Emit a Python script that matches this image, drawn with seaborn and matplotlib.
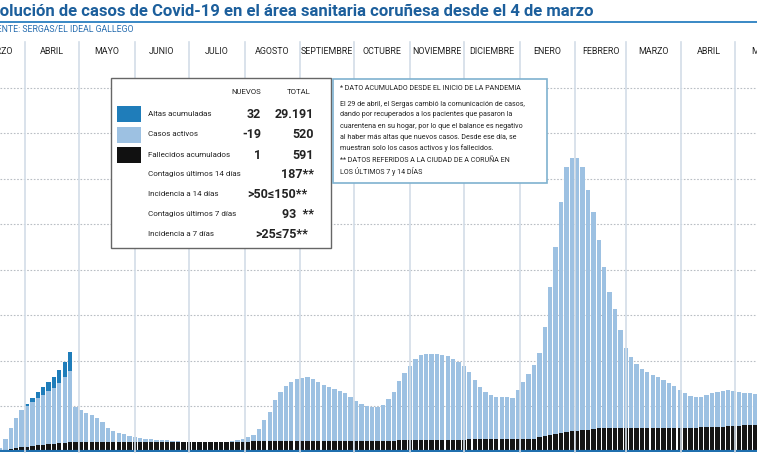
import numpy as np
import pandas as pd
import matplotlib
matplotlib.use("Agg")
import matplotlib.pyplot as plt
import seaborn as sns
from matplotlib.patches import Rectangle

# ---- data (one bar every 3 days from 18 March 2020) ----
fechas = pd.date_range("2020-03-18", periods=141, freq="3D")
activos = [4, 13, 24, 34, 42, 46, 50, 54, 57, 61, 64, 69, 75, 81, 45, 42, 39, 37, 34, 30,
           24, 21, 19, 18, 16, 15, 14, 13, 13, 12, 12, 12, 11, 11, 10, 10, 9, 9, 9, 9,
           9, 10, 10, 11, 12, 13, 15, 17, 23, 32, 40, 52, 60, 66, 70, 73, 74, 75, 73, 70,
           67, 65, 63, 61, 59, 55, 51, 48, 46, 45, 45, 47, 53, 60, 71, 79, 86, 93, 97, 98,
           98, 98, 97, 96, 93, 90, 86, 80, 72, 65, 60, 57, 55, 55, 55, 54, 62, 70, 78, 87,
           99, 125, 165, 205, 250, 285, 294, 294, 285, 262, 240, 212, 185, 160, 143, 122, 104, 95, 88, 83,
           80, 77, 75, 72, 69, 66, 62, 59, 56, 55, 55, 57, 59, 60, 61, 62, 61, 60, 59, 59, 58]
altas_extra = [0, 0, 0, 0, 0, 2, 4, 6, 8, 9, 11, 13, 15, 19] + [0] * 127
fallecidos = [1, 2, 3, 4, 5, 5, 6, 7, 7, 8, 8, 9, 9, 10] + [10] * 33 + [11] * 27 + \
             [12] * 13 + [13] * 13 + [15, 16, 17, 18, 19, 20, 21, 21, 22, 22, 23] + [24] * 19 + [25] * 5 + [26] * 3 + [27] * 3
meses = ["MARZO", "ABRIL", "MAYO", "JUNIO", "JULIO", "AGOSTO", "SEPTIEMBRE", "OCTUBRE",
         "NOVIEMBRE", "DICIEMBRE", "ENERO", "FEBRERO", "MARZO", "ABRIL", "MAYO"]
inicios_mes = pd.date_range("2020-03-01", periods=16, freq="MS")

origen = pd.Timestamp("2020-03-04")
dias = np.array([(f - origen).days for f in fechas])
df = pd.DataFrame({"dia": dias,
                   "activos": activos,
                   "altas": np.array(activos) + np.array(altas_extra),
                   "fallecidos": fallecidos[:len(dias)]})

W, H = 757, 463
fig = plt.figure(figsize=(W / 100, H / 100), dpi=100)
def fx(x): return x / W
def fy(y): return 1 - y / H

ax = fig.add_axes([0, fy(452), 1, (452 - 60) / H])
x0, x1 = 14, 435
ax.set_xlim(x0, x1)
ax.set_ylim(0, 392)
for v in np.arange(46, 392, 45.5):
    ax.axhline(v, color="#b9bec4", lw=0.8, ls=(0, (1.5, 1.5)), zorder=0)

sns.barplot(data=df, x="dia", y="altas", native_scale=True, color="#1f7dba", width=0.8,
            saturation=1, ax=ax, zorder=2)
sns.barplot(data=df, x="dia", y="activos", native_scale=True, color="#9dc1e2", width=0.8,
            saturation=1, ax=ax, zorder=3)
sns.barplot(data=df, x="dia", y="fallecidos", native_scale=True, color="#151515", width=0.8,
            saturation=1, ax=ax, zorder=4)
ax.set_xlim(x0, x1)
ax.axis("off")
ax.axhline(0, color="#1f6fae", lw=3, zorder=6)

def day_to_px(d): return (d - x0) / (x1 - x0) * W
lim_px = [day_to_px((m - origen).days) for m in inicios_mes]
for p in lim_px[1:]:
    fig.add_artist(plt.Line2D([fx(p), fx(p)], [fy(42), fy(452)], color="#d3dde8", lw=1.2, zorder=5))
narrow = "Roboto"
for i, name in enumerate(meses):
    c = (lim_px[i] + lim_px[i + 1]) / 2
    fig.text(fx(c), fy(51), name, ha="center", va="center", fontsize=6.4, family=narrow, color="#222")

# title
fig.text(fx(-18), fy(12), "Evolución de casos de Covid-19 en el área sanitaria coruñesa desde el 4 de marzo",
         ha="left", va="center", fontsize=12, fontweight="bold", family="Roboto", color="#1c5f9c")
fig.add_artist(plt.Line2D([0, 1], [fy(22), fy(22)], color="#2a7fc0", lw=1.3))
fig.text(fx(-14), fy(29), "FUENTE: SERGAS/EL IDEAL GALLEGO", ha="left", va="center", fontsize=6.3,
         family=narrow, color="#2a6fb0")

# legend box
fig.add_artist(Rectangle((fx(111), fy(248)), fx(220), (248 - 78) / H, transform=fig.transFigure,
                         facecolor="white", edgecolor="#666", lw=1, zorder=10))
t = dict(zorder=11, family=narrow, va="center", color="#222")
fig.text(fx(261), fy(92), "NUEVOS", ha="right", fontsize=5.6, **t)
fig.text(fx(311), fy(92), "TOTAL", ha="right", fontsize=5.6, **t)
rows = [("Altas acumuladas", "32", "29.191", "#1f7dba"),
        ("Casos activos", "-19", "520", "#9dc1e2"),
        ("Fallecidos acumulados", "1", "591", "#111111")]
for i, (lab, nv, tot, col) in enumerate(rows):
    y = 114 + 20.5 * i
    fig.add_artist(Rectangle((fx(117), fy(y + 8)), fx(24), 16 / H, transform=fig.transFigure,
                             facecolor=col, edgecolor="none", zorder=11))
    fig.text(fx(148), fy(y), lab, ha="left", fontsize=5.8, **t)
    fig.text(fx(261), fy(y), nv, ha="right", fontsize=9, fontweight="bold", **t)
    fig.text(fx(314), fy(y), tot, ha="right", fontsize=9, fontweight="bold", **t)
extra = [("Contagios últimos 14 días", "187**", 314), ("Incidencia a 14 días", ">50≤150**", 307),
         ("Contagios últimos 7 días", "93  **", 314), ("Incidencia a 7 días", ">25≤75**", 308)]
for i, (lab, val, xr) in enumerate(extra):
    y = 174 + 20 * i
    fig.text(fx(148), fy(y), lab, ha="left", fontsize=5.8, **t)
    fig.text(fx(xr), fy(y), val, ha="right", fontsize=9, fontweight="bold", **t)

# note box
fig.add_artist(Rectangle((fx(333), fy(183)), fx(214), (183 - 79) / H, transform=fig.transFigure,
                         facecolor="white", edgecolor="#7fb2cf", lw=1.2, zorder=10))
nota = [(88, "* DATO ACUMULADO DESDE EL INICIO DE LA PANDEMIA"),
        (104, "El 29 de abril, el Sergas cambió la comunicación de casos,"),
        (115, "dando por recuperados a los pacientes que pasaron la"),
        (126, "cuarentena en su hogar, por lo que el balance es negativo"),
        (137, "al haber más altas que nuevos casos. Desde ese día, se"),
        (148, "muestran solo los casos activos y los fallecidos."),
        (160, "** DATOS REFERIDOS A LA CIUDAD DE A CORUÑA EN"),
        (171, "LOS ÚLTIMOS 7 y 14 DÍAS")]
for y, s in nota:
    fig.text(fx(340), fy(y), s, ha="left", fontsize=5.1, **t)

fig.savefig("out.png", dpi=100)
